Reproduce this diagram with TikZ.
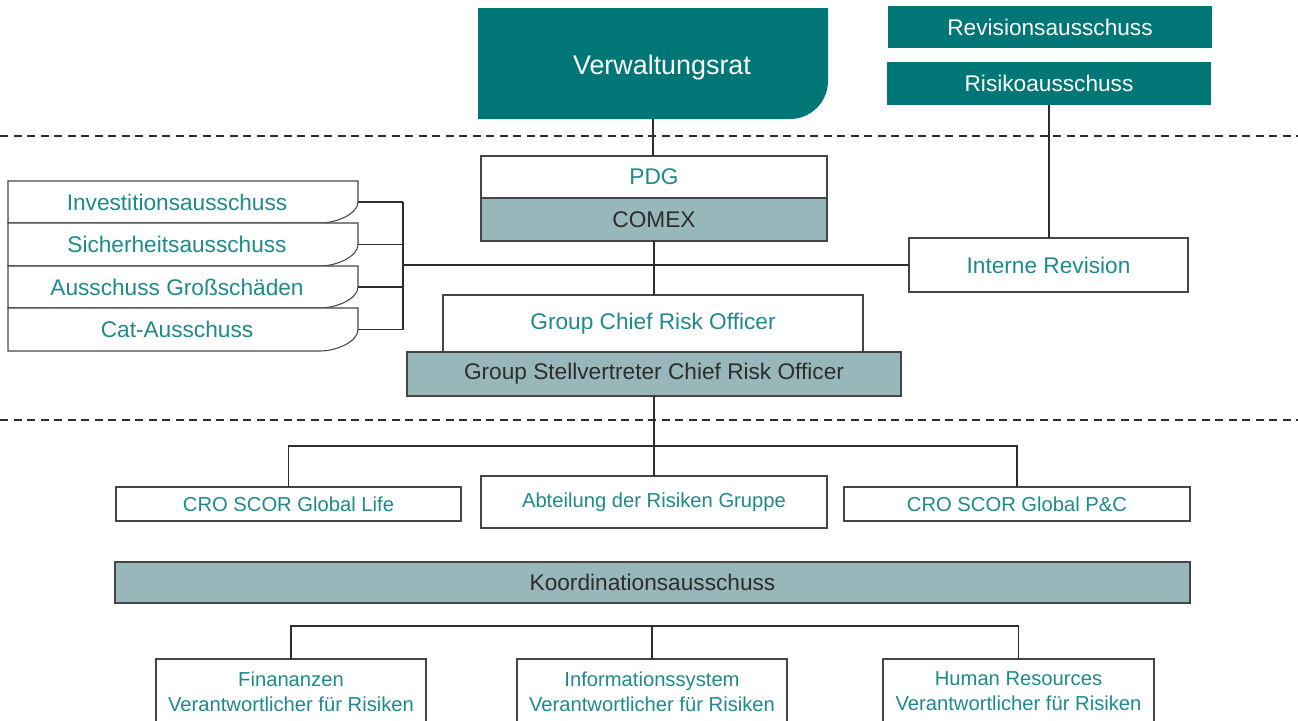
\documentclass[tikz,border=0pt]{standalone}
\usepackage{fontspec}
\setmainfont{Liberation Sans}
\usetikzlibrary{calc}

\definecolor{boardteal}{RGB}{0,118,119}
\definecolor{paleteal}{RGB}{151,183,187}
\definecolor{inkteal}{RGB}{30,138,138}
\definecolor{inkdark}{RGB}{45,45,45}
\definecolor{frame}{RGB}{70,70,70}
\definecolor{rule}{RGB}{45,45,45}

\newlength\px
\setlength\px{0.02cm}

% place a rectangular node from its corner coordinates (x1,y1) (x2,y2)
\newcommand\orgnode[7]{%
  \node[#1, minimum width={(#5-#3)*\px}, minimum height={(#6-#4)*\px}]
    (#2) at ({(#3+#5)/2},{(#4+#6)/2}) {#7};}

% committee box: square corners except a soft lower right corner
\newcommand\committee[4]{%
  \draw[boxline, fill=white] (8,#2) -- (358,#2) -- (358,{(#2+#3)/2})
    .. controls (358,{(#2+#3)/2+0.55*(#3-#2)/2}) and (337,#3) .. (320,#3)
    -- (8,#3) -- cycle;
  \node[cmtext, minimum width=350\px, minimum height={(#3-#2)*\px}]
    (#1) at (183,{(#2+#3)/2}) {\hspace*{-12\px}#4};}

\tikzset{
  midfont/.style={font=\fontsize{12.9}{15}\selectfont},
  smallfont/.style={font=\fontsize{11.5}{14.2}\selectfont},
  boxline/.style={draw=frame, line width=0.6pt},
  plainbox/.style={boxline, fill=white, inner sep=0pt, outer sep=0pt,
    text=inkteal, midfont},
  palebox/.style={plainbox, fill=paleteal, text=inkdark},
  boardbox/.style={fill=boardteal, draw=none, inner sep=0pt, outer sep=0pt,
    text=white, midfont},
  cmtext/.style={draw=none, inner sep=0pt, outer sep=0pt, text=inkteal, midfont},
  link/.style={draw=rule, line width=1pt},
  divider/.style={draw=rule, line width=0.8pt, dash pattern=on 8\px off 5.5\px},
}

\begin{document}
\begin{tikzpicture}[x=0.02cm, y=-0.02cm]
  \useasboundingbox (0,0) rectangle (1298,720);
  \clip (0,0) rectangle (1298,720);

  % board level
  \fill[boardteal] (478,8) -- (828,8) -- (828,81)
    .. controls (828,102) and (811,119) .. (790,119) -- (478,119) -- cycle;
  \node[draw=none, inner sep=0pt, outer sep=0pt, minimum width=350\px,
    minimum height=111\px] (vr) at (653,63.5) {};
  \node[text=white, inner sep=0pt, font=\fontsize{15.3}{18}\selectfont,
    xshift=9\px, yshift=-4\px] (vrlabel) at (vr.center) {Verwaltungsrat};

  \orgnode{boardbox}{rev}{888}{6}{1212}{48}{Revisionsausschuss}
  \orgnode{boardbox}{risk}{887}{62}{1211}{105}{Risikoausschuss}

  % management level
  \orgnode{plainbox}{pdg}{481}{156}{827}{198}{PDG}
  \orgnode{palebox}{comex}{481}{198}{827}{241}{COMEX}
  \orgnode{plainbox}{ir}{909}{238}{1188}{292}{Interne Revision}
  \orgnode{plainbox}{gcro}{443}{295}{863}{352}{Group Chief Risk Officer}
  \orgnode{palebox}{gscro}{407}{352}{901}{396}{Group Stellvertreter Chief Risk Officer}

  % committees on the left
  \committee{c1}{181}{223}{Investitionsausschuss}
  \committee{c2}{223}{266}{Sicherheitsausschuss}
  \committee{c3}{266}{308}{Ausschuss Großschäden}
  \committee{c4}{308}{351}{Cat-Ausschuss}

  % risk functions
  \orgnode{plainbox, smallfont}{life}{116}{487}{461}{521}{CRO SCOR Global Life}
  \orgnode{plainbox, smallfont}{abt}{481}{476}{827}{528}{Abteilung der Risiken Gruppe}
  \orgnode{plainbox, smallfont}{pc}{844}{487}{1190}{521}{CRO SCOR Global P\&C}
  \orgnode{palebox}{koord}{115}{562}{1190}{603}{Koordinationsausschuss}
  \orgnode{plainbox, smallfont, align=center}{fin}{156}{659}{426}{724}
    {Finananzen\\Verantwortlicher für Risiken}
  \orgnode{plainbox, smallfont, align=center}{info}{517}{659}{787}{724}
    {Informationssystem\\Verantwortlicher für Risiken}
  \orgnode{plainbox, smallfont, align=center}{hr}{883}{659}{1154}{724}
    {Human Resources\\Verantwortlicher für Risiken}

  % level dividers
  \coordinate (d1l) at (0,136);   \coordinate (d1r) at (1298,136);
  \coordinate (d2l) at (0,420);   \coordinate (d2r) at (1298,420);
  \draw[divider] (d1l) -- (d1r);
  \draw[divider] (d2l) -- (d2r);

  % connectors
  \draw[link] (vr.south) -- (vr.south |- pdg.north);
  \draw[link] (risk.south) -- (risk.south |- ir.north);
  \draw[link] (comex.south) -- (comex.south |- gcro.north);

  \coordinate (br) at (403,265);
  \draw[link] (br) -- (ir.west);
  \draw[link] (c1.east) -- (c1.east -| br);
  \draw[link] (c2.east) -- (c2.east -| br);
  \draw[link] (c3.east) -- (c3.east -| br);
  \draw[link] (c4.east) -- (c4.east -| br);
  \draw[link] (c1.east -| br) -- (c4.east -| br);

  \coordinate (hub) at (653,446);
  \draw[link] (gscro.south) -- (gscro.south |- abt.north);
  \draw[link] (life.north) |- (hub) -| (pc.north);

  \coordinate (hubb) at (652,626);
  \draw[link] (fin.north) |- (hubb) -| (hr.north);
  \draw[link] (info.north) -- (info.north |- hubb);
\end{tikzpicture}
\end{document}
